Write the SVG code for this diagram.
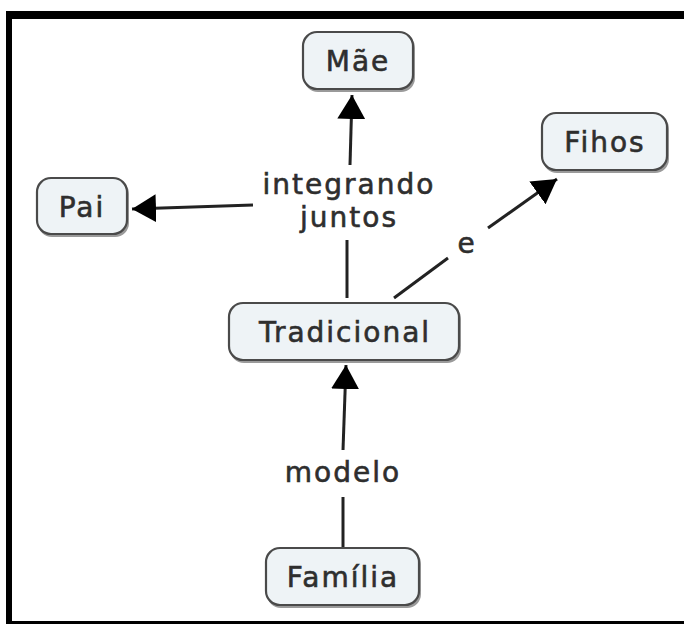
<svg xmlns="http://www.w3.org/2000/svg" width="684" height="624" viewBox="0 0 684 624">
<style>
.box{fill:#eef3f6;stroke:#4a4a4a;stroke-width:2.2}
.shadow{fill:#9a9a9a}
.lbl{font-family:"DejaVu Sans","Verdana",sans-serif;font-size:28px;fill:#2e2e2e;stroke:#2e2e2e;stroke-width:0.6;text-anchor:middle;letter-spacing:2px}
.con{stroke:#222;stroke-width:3;fill:none}
</style>
<defs>
<marker id="arr" viewBox="0 0 24 28" refX="24" refY="14" markerWidth="24" markerHeight="28" markerUnits="userSpaceOnUse" orient="auto">
<path d="M0,0 L24,14 L0,28 z" fill="#000"/>
</marker>
</defs>
<rect x="0" y="0" width="684" height="624" fill="#fff"/>
<rect x="6" y="11" width="678" height="8" fill="#000"/>
<rect x="6" y="11" width="6" height="613" fill="#000"/>
<rect x="6" y="621" width="678" height="3" fill="#000"/>

<g id="connectors">
<line class="con" x1="347" y1="298" x2="347" y2="240"/>
<line class="con" x1="350" y1="165" x2="352" y2="95" marker-end="url(#arr)"/>
<line class="con" x1="253" y1="205" x2="132" y2="209" marker-end="url(#arr)"/>
<line class="con" x1="394" y1="298" x2="448" y2="258"/>
<line class="con" x1="488" y1="228" x2="557" y2="179" marker-end="url(#arr)"/>
<line class="con" x1="343" y1="548" x2="343" y2="497"/>
<line class="con" x1="343" y1="450" x2="346" y2="365" marker-end="url(#arr)"/>
<text class="lbl" x="349" y="194">integrando</text>
<text class="lbl" x="349" y="227">juntos</text>
<text class="lbl" x="467" y="253">e</text>
<text class="lbl" x="343" y="482">modelo</text>
</g>

<g id="mae">
<rect class="shadow" x="304" y="34" width="111" height="58" rx="14"/>
<rect class="box" x="303" y="32" width="110" height="57" rx="14"/>
<text class="lbl" x="358" y="71">Mãe</text>
</g>
<g id="pai">
<rect class="shadow" x="38" y="180" width="91" height="57" rx="14"/>
<rect class="box" x="37" y="178" width="90" height="56" rx="14"/>
<text class="lbl" x="82" y="217">Pai</text>
</g>
<g id="fihos">
<rect class="shadow" x="543" y="115" width="126" height="58" rx="14"/>
<rect class="box" x="542" y="113" width="125" height="57" rx="14"/>
<text class="lbl" x="605" y="152">Fihos</text>
</g>
<g id="tradicional">
<rect class="shadow" x="230" y="305" width="231" height="58" rx="14"/>
<rect class="box" x="229" y="303" width="230" height="57" rx="14"/>
<text class="lbl" x="345" y="342">Tradicional</text>
</g>
<g id="familia">
<rect class="shadow" x="267" y="550" width="154" height="58" rx="14"/>
<rect class="box" x="266" y="548" width="153" height="57" rx="14"/>
<text class="lbl" x="343" y="587">Família</text>
</g>
</svg>
